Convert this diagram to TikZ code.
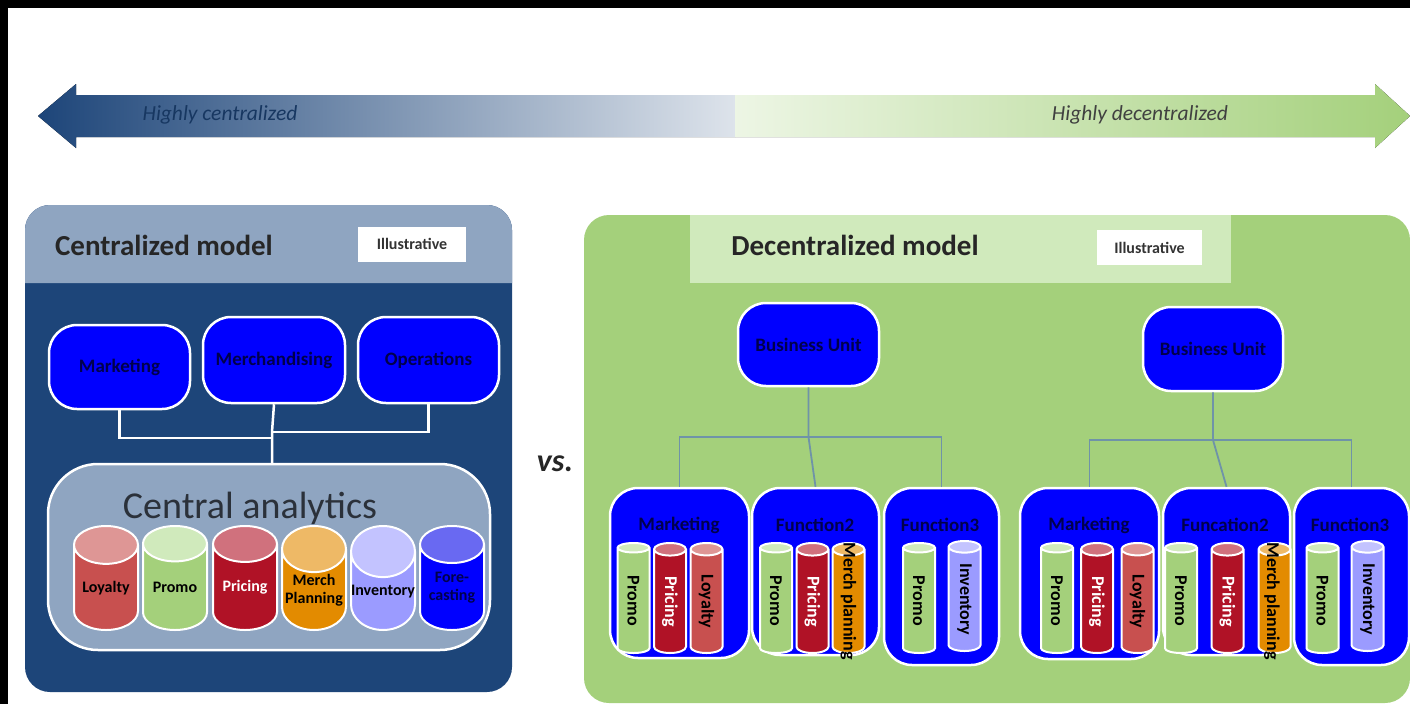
\documentclass[tikz,border=0pt]{standalone}
\usepackage{fontspec}
\usepackage{graphicx}
\setmainfont{Carlito}
\usepackage{xcolor}
\usepackage{tikz}
\usetikzlibrary{shapes.geometric}

\definecolor{navy}{HTML}{1D4579}
\definecolor{slate}{HTML}{8FA5C1}
\definecolor{leaf}{HTML}{A4D07B}
\definecolor{paleleaf}{HTML}{D0EABC}
\definecolor{busline}{HTML}{6F93A8}
\definecolor{inkblue}{HTML}{00004C}
\definecolor{loyaltyred}{HTML}{C8504F}
\definecolor{pricingred}{HTML}{B01226}
\definecolor{merchorange}{HTML}{E38B00}
\definecolor{inventorylilac}{HTML}{9B9BFF}

\tikzset{
  x=1pt, y=-1pt,
  unitbox/.style={draw=white, line width=2.5pt, fill=blue, rounded corners=28pt, align=center, text=inkblue, font=\fontsize{19}{21}\selectfont\bfseries},
  unitname/.style={text=inkblue, font=\fontsize{19}{21}\selectfont\bfseries},
  stamp/.style={fill=white, font=\fontsize{16}{18}\selectfont\bfseries, text=black!80},
  tube/.style={shape=cylinder, shape border rotate=90, aspect=0.8, anchor=south, draw=white, line width=2pt, inner sep=0pt, cylinder uses custom fill, align=center, font=\fontsize{16}{18}\selectfont\bfseries},
  wide/.style={minimum width=64pt, minimum height=104pt},
  thin/.style={minimum width=32pt, minimum height=110pt, font=\fontsize{18}{20}\selectfont\bfseries},
  loyalty/.style={cylinder body fill=loyaltyred, cylinder end fill=loyaltyred!60!white},
  promo/.style={cylinder body fill=leaf, cylinder end fill=paleleaf},
  pricing/.style={cylinder body fill=pricingred, cylinder end fill=pricingred!60!white, text=white},
  merch/.style={cylinder body fill=merchorange, cylinder end fill=merchorange!60!white},
  inventory/.style={cylinder body fill=inventorylilac, cylinder end fill=inventorylilac!60!white},
  forecast/.style={cylinder body fill=blue, cylinder end fill=blue!60!white!90!gray, text=inkblue},
}

\begin{document}
\begin{tikzpicture}
\useasboundingbox (0,0) rectangle (1410,704);
\fill[white] (0,0) rectangle (1410,704);
\fill[black] (0,0) rectangle (1410,8);
\fill[black] (0,0) rectangle (8,704);

% scale arrow
\fill[left color=navy, right color=navy!15!white] (38,116) -- (76,84) -- (76,95) -- (735,95) -- (735,137) -- (76,137) -- (76,148) -- cycle;
\fill[left color=leaf!20!white, right color=leaf] (735,95) -- (1375,95) -- (1375,84) -- (1410,116) -- (1375,148) -- (1375,137) -- (735,137) -- cycle;
\node[font=\fontsize{21.5}{24}\selectfont\itshape, text=navy!80!black] (highc) at (220,115) {Highly centralized};
\node[font=\fontsize{21.5}{24}\selectfont\itshape, text=black!75] (highd) at (1140,115) {Highly decentralized};

% centralized side
\fill[navy, rounded corners=25pt] (25,205) rectangle (512,692);
\fill[slate] (25,283) {[rounded corners=25pt] -- (25,205) -- (512,205)} -- (512,283) -- cycle;
\node[font=\fontsize{29}{32}\selectfont\bfseries, text=black!85] (ctitle) at (164,245) {Centralized model};
\node[stamp, minimum width=108pt, minimum height=35pt] (cstamp) at (412,244) {Illustrative};

\node[unitbox, minimum width=141pt, minimum height=84pt] (marketing) at (119.5,367) {Marketing};
\node[unitbox, minimum width=142pt, minimum height=86pt] (merchandising) at (274,360) {Merchandising};
\node[unitbox, minimum width=141pt, minimum height=86pt] (operations) at (428.5,360) {Operations};

\node[draw=white, line width=2.5pt, fill=slate, rounded corners=50pt, minimum width=442pt, minimum height=186pt] (analytics) at (269,557) {};
\node[font=\fontsize{38}{42}\selectfont, text=black!70!slate] (analyticstext) at (250,508) {Central analytics};

\coordinate (joinl) at (271,438);
\coordinate (joinr) at (272,432);
\draw[white, line width=2.5pt] (marketing.south) |- (joinl);
\draw[white, line width=2.5pt] (operations.south) |- (joinr);
\draw[white, line width=2.5pt] (merchandising.south) -- (joinr) -- (joinr |- analytics.north);

\node[tube, wide, loyalty] (loyaltyc) at (106,631) {Loyalty};
\node[tube, wide, promo] (promoc) at (175,631) {Promo};
\node[tube, wide, pricing] (pricingc) at (245,631) {Pricing};
\node[tube, wide, merch] (merchc) at (314,631) {Merch\\Planning};
\node[tube, wide, inventory] (inventoryc) at (383,631) {Inventory};
\node[tube, wide, forecast] (forecastc) at (452,631) {Fore-\\casting};

\node[font=\fontsize{32}{36}\selectfont\bfseries\itshape, text=black!85] (versus) at (555,464) {vs.};

% decentralized side
\fill[leaf, rounded corners=25pt] (584,215) rectangle (1410,703);
\fill[paleleaf] (690,215) rectangle (1231,283);
\node[font=\fontsize{29}{32}\selectfont\bfseries, text=black!85] (dtitle) at (855,245) {Decentralized model};
\node[stamp, minimum width=105pt, minimum height=35pt] (dstamp) at (1149.5,247.5) {Illustrative};

\node[unitbox, minimum width=141pt, minimum height=83pt] (unita) at (808.5,344.5) {Business Unit};
\node[unitbox, minimum width=140pt, minimum height=84pt] (unitb) at (1213,349) {Business Unit};

\node[unitbox, minimum width=139pt, minimum height=170pt] (marketinga) at (679.5,573) {};
\node[unitbox, minimum width=127pt, minimum height=167pt] (functiona) at (815.5,571.5) {};
\node[unitbox, minimum width=115pt, minimum height=177pt] (functionb) at (941.5,576.5) {};
\node[unitbox, minimum width=139pt, minimum height=171pt] (marketingb) at (1089.5,573.5) {};
\node[unitbox, minimum width=127pt, minimum height=167pt] (functionc) at (1226.5,571.5) {};
\node[unitbox, minimum width=115pt, minimum height=177pt] (functiond) at (1351.5,576.5) {};

\node[unitname] (marketingat) at (679,525) {Marketing};
\node[unitname] (functionat) at (815,525) {Function2};
\node[unitname] (functionbt) at (940,525) {Function3};
\node[unitname] (marketingbt) at (1089,525) {Marketing};
\node[unitname] (functionct) at (1225,525) {Funcation2};
\node[unitname] (functiondt) at (1350,525) {Function3};

\coordinate (busa) at (808.5,437);
\coordinate (busb) at (1213,440);
\draw[busline, line width=1.8pt] (marketinga.north) |- (busa) -| (functionb.north);
\draw[busline, line width=1.8pt] (unita.south) -- (busa) -- (functiona.north);
\draw[busline, line width=1.8pt] (marketingb.north) |- (busb) -| (functiond.north);
\draw[busline, line width=1.8pt] (unitb.south) -- (busb) -- (functionc.north);

\node[tube, thin, promo] (promoa) at (633.5,654) {\rotatebox{-90}{Promo}};
\node[tube, thin, pricing] (pricinga) at (670,654) {\rotatebox{-90}{Pricing}};
\node[tube, thin, loyalty] (loyaltya) at (706.5,654) {\rotatebox{-90}{Loyalty}};
\node[tube, thin, promo] (promob) at (776,654) {\rotatebox{-90}{Promo}};
\node[tube, thin, pricing] (pricingb) at (812.5,654) {\rotatebox{-90}{Pricing}};
\node[tube, thin, merch] (merchb) at (848.5,654) {\rotatebox{-90}{\phantom{Pricing}}};
\node[font=\fontsize{18}{20}\selectfont\bfseries, rotate=-90] (merchbt) at (848.5,601) {Merch planning};
\node[tube, thin, promo] (promoc2) at (919,654) {\rotatebox{-90}{Promo}};
\node[tube, thin, inventory] (inventoryb) at (964.5,652) {\rotatebox{-90}{Inventory}};

\node[tube, thin, promo] (promod) at (1057,654) {\rotatebox{-90}{Promo}};
\node[tube, thin, pricing] (pricingd) at (1097,654) {\rotatebox{-90}{Pricing}};
\node[tube, thin, loyalty] (loyaltyd) at (1137.5,654) {\rotatebox{-90}{Loyalty}};
\node[tube, thin, promo] (promoe) at (1181,654) {\rotatebox{-90}{Promo}};
\node[tube, thin, pricing] (pricinge) at (1227.5,654) {\rotatebox{-90}{Pricing}};
\node[tube, thin, merch] (merche) at (1274.5,654) {\rotatebox{-90}{\phantom{Pricing}}};
\node[font=\fontsize{18}{20}\selectfont\bfseries, rotate=-90] (merchet) at (1272,601) {Merch planning};
\node[tube, thin, promo] (promof) at (1322.5,654) {\rotatebox{-90}{Promo}};
\node[tube, thin, inventory] (inventoryd) at (1367.5,652) {\rotatebox{-90}{Inventory}};
\end{tikzpicture}
\end{document}
